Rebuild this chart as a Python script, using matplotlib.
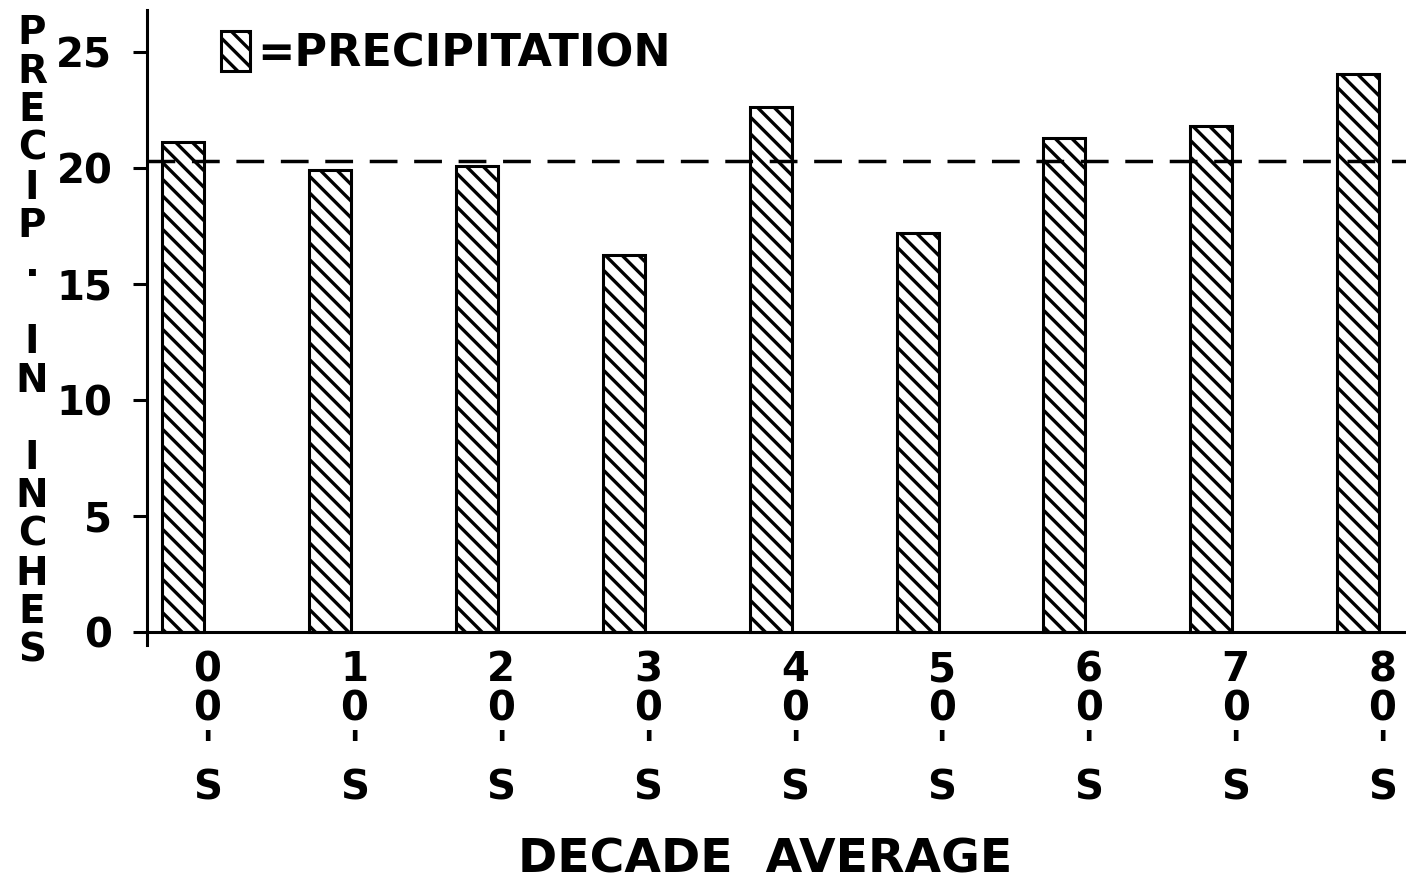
import numpy as np
import matplotlib
matplotlib.use('Agg')
import matplotlib.pyplot as plt

# decade averages
decades = ["00", "10", "20", "30", "40", "50", "60", "70", "80"]
precip = [21.1, 19.9, 20.1, 16.25, 22.6, 17.2, 21.3, 21.8, 24.05]
long_term_avg = 20.3
y_ticks = [0, 5, 10, 15, 20, 25]

plt.rcParams['font.family'] = ['DejaVu Sans']
plt.rcParams['font.weight'] = 'bold'
plt.rcParams['hatch.linewidth'] = 2.4
plt.rcParams['hatch.color'] = 'black'

fig = plt.figure(figsize=(14.06, 8.82), dpi=100)
# axes placed in pixel terms of the reference
left, right, top, bottom = 147, 1406, 10, 645
ax = fig.add_axes([left / 1406, 1 - bottom / 882, (right - left) / 1406, (bottom - top) / 882])

x = np.arange(len(decades))
bars = ax.bar(x, precip, width=0.286, color='white', edgecolor='black',
              linewidth=2.2, hatch='\\\\', label='=PRECIPITATION', zorder=2)

ax.axhline(long_term_avg, color='black', lw=2.5, linestyle=(0, (8, 4.8)), zorder=3)

ax.set_xlim(-0.245, 8.325)
ax.set_ylim(-0.56, 26.8)

for s in ['top', 'right']:
    ax.spines[s].set_visible(False)
ax.spines['bottom'].set_position(('data', 0))
ax.spines['left'].set_linewidth(2.2)
ax.spines['bottom'].set_linewidth(2.2)

ax.set_yticks(y_ticks)
ax.set_yticklabels([str(v) for v in y_ticks], fontsize=29, fontweight='bold')
ax.tick_params(axis='y', direction='out', length=10, width=2.2, pad=15)

xlabels = [f"{d[0]}\n{d[1]}\n'\nS" for d in decades]
ax.set_xticks(x + 0.165)
ax.set_xticklabels(xlabels, fontsize=29, fontweight='bold', linespacing=0.98, va='top')
ax.tick_params(axis='x', length=0, pad=13)

ax.legend(loc='upper left', bbox_to_anchor=(0.045, 0.995), frameon=False,
          fontsize=32, handlelength=0.65, handleheight=1.0, handletextpad=0.15,
          borderaxespad=0)

fig.text(765 / 1406, 1 - 860 / 882, "DECADE  AVERAGE", fontsize=34, fontweight='bold',
         ha='center', va='center')

ylab = "P\nR\nE\nC\nI\nP\n.\n \nI\nN\n \nI\nN\nC\nH\nE\nS"
fig.text(32 / 1406, 1 - 342 / 882, ylab, fontsize=28, fontweight='bold',
         ha='center', va='center', multialignment='center', linespacing=1.02)

fig.savefig('out.png', dpi=100)
